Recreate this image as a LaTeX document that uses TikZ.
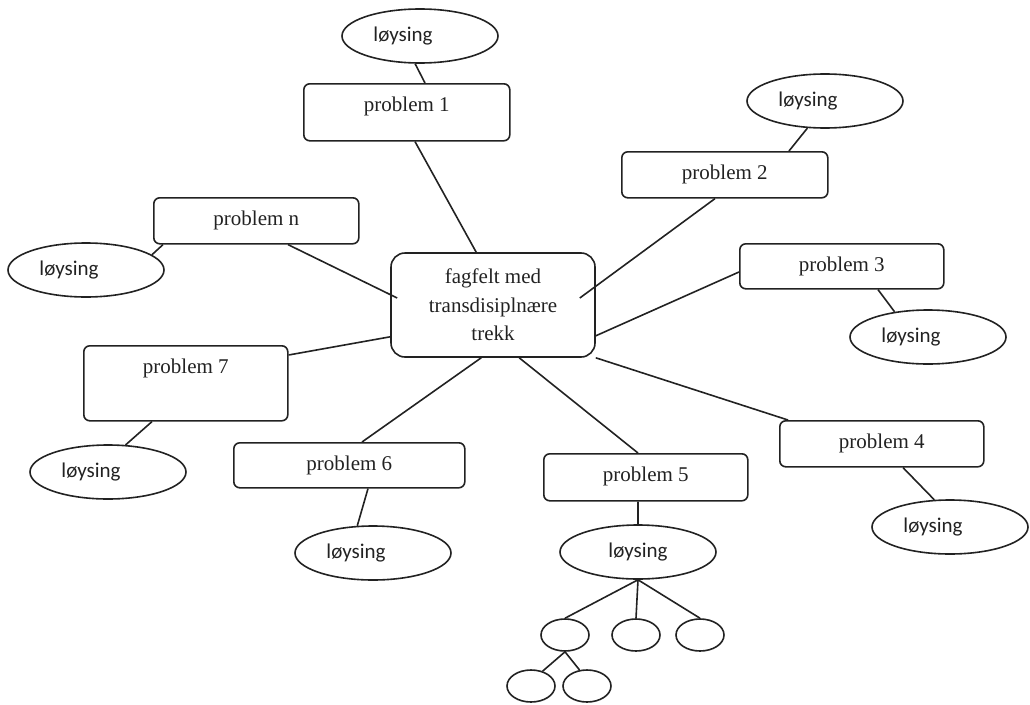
\documentclass[tikz,border=0pt]{standalone}
\usepackage{fontspec}
\setmainfont{Liberation Serif}
\newfontfamily\loysfont{Carlito}
\usepackage{tikz}
\usetikzlibrary{calc, shapes.geometric}
\usepackage{xcolor}
\definecolor{ink}{RGB}{34,34,34}
\newcommand{\loys}{løysing\hspace*{34pt}}

\begin{document}
\begin{tikzpicture}[x=1pt,y=-1pt,color=ink,line width=1.6pt]
  \tikzstyle{problem}=[draw, rounded corners=6pt, anchor=north west,
    minimum width=204pt, inner sep=0pt, text height=28pt, text depth=18pt,
    font=\fontsize{21}{25}\selectfont]
  \tikzstyle{loysing}=[draw, ellipse, minimum width=156pt, minimum height=54pt,
    inner sep=0pt, font=\loysfont\fontsize{21}{25}\selectfont]
  \tikzstyle{leaf}=[draw, ellipse, minimum width=48pt, minimum height=32pt, inner sep=0pt]

  \useasboundingbox (0,0) rectangle (1030,704);

  \node[draw, rounded corners=14pt, minimum width=204pt, minimum height=104pt,
    inner sep=0pt, align=center, font=\fontsize{21}{28.5}\selectfont]
    (c) at (493,305) {fagfelt med\\transdisiplnære\\trekk};

  \node[problem, minimum width=206pt, text depth=29pt] (p_1) at (303,83)  {problem 1};
  \node[problem, minimum width=206pt]                  (p_2) at (621,151) {problem 2};
  \node[problem, text depth=17pt]                      (p_3) at (739,243) {problem 3};
  \node[problem]                                       (p_4) at (779,420) {problem 4};
  \node[problem, text depth=19pt]                      (p_5) at (543,453) {problem 5};
  \node[problem, minimum width=231pt, text depth=17pt] (p_6) at (233,442) {problem 6};
  \node[problem, text depth=47pt]                      (p_7) at (83,345)  {problem 7};
  \node[problem, minimum width=205pt]                  (p_n) at (153,197) {problem n};

  \node[loysing] (l_1) at (420,36)  {\loys};
  \node[loysing] (l_2) at (825,101) {\loys};
  \node[loysing] (l_3) at (928,337) {\loys};
  \node[loysing] (l_4) at (950,527) {\loys};
  \node[loysing] (l_5) at (638,552) {løysing};
  \node[loysing] (l_6) at (373,553) {\loys};
  \node[loysing] (l_7) at (108,472) {\loys};
  \node[loysing] (l_n) at (86,270)  {\loys};

  \node[leaf] (e_1) at (565,635) {};
  \node[leaf] (e_2) at (636,635) {};
  \node[leaf] (e_3) at (700,635) {};
  \node[leaf] (e_4) at (531,686) {};
  \node[leaf] (e_5) at (587,686) {};

  \draw
  (l_1.-100) -- ($(p_1.north west)+(122,0)$)
  ($(p_1.south west)+(112,0)$) -- ($(c.north west)+(86,0)$)
  (l_2.-123) -- ($(p_2.north west)+(168,0)$)
  ($(p_2.south west)+(94,0)$) -- ($(c.east)+(-16,-7)$)
  ($(p_3.north west)+(0,29)$) -- ($(c.south east)+(0,-22)$)
  ($(p_3.south west)+(139,0)$) -- (l_3.143)
  (c.south east) -- ($(p_4.north west)+(9,0)$)
  ($(p_4.south west)+(124,0)$) -- (l_4.120)
  ($(c.south west)+(129,0)$) -- ($(p_5.north west)+(95,0)$)
  ($(p_5.south west)+(95,0)$) -- (l_5.north)
  (l_5.south) -- (e_1.north)
  (l_5.south) -- (e_2.north)
  (l_5.south) -- (e_3.north)
  (e_1.south) -- (e_4.52)
  (e_1.south) -- (e_5.115)
  ($(c.south west)+(91,0)$) -- ($(p_6.north west)+(129,0)$)
  ($(p_6.south west)+(135,0)$) -- (l_6.120)
  ($(p_7.north east)+(0,10)$) -- ($(c.south west)+(0,-21)$)
  ($(p_7.south west)+(69,0)$) -- (l_7.57)
  ($(p_n.south west)+(135,0)$) -- ($(c.west)+(7,-7)$)
  (l_n.13) -- ($(p_n.south west)+(10,0)$)
  ;
\end{tikzpicture}
\end{document}
